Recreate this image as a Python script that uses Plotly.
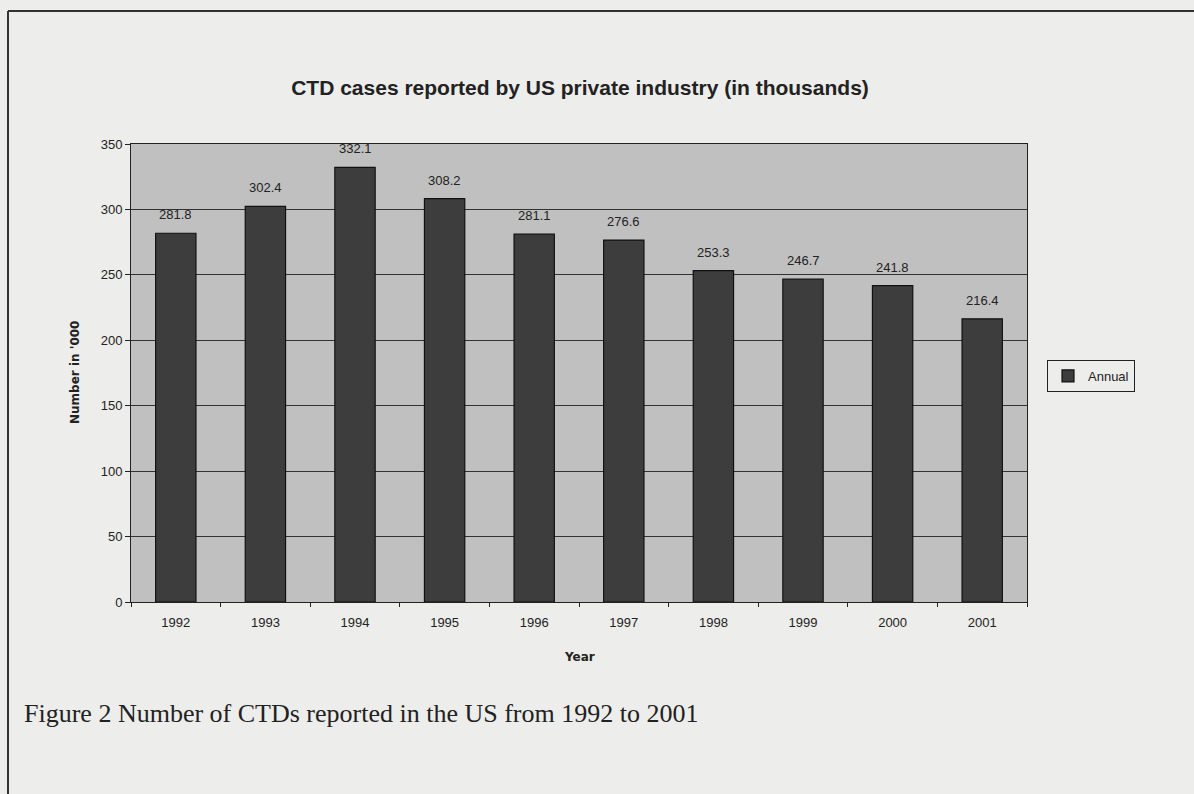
import plotly.graph_objects as go

years = ["1992", "1993", "1994", "1995", "1996", "1997", "1998", "1999", "2000", "2001"]
cases = [281.8, 302.4, 332.1, 308.2, 281.1, 276.6, 253.3, 246.7, 241.8, 216.4]
series_name = "Annual"
title_text = "CTD cases reported by US private industry (in thousands)"
caption_text = "Figure 2 Number of CTDs reported in the US from 1992 to 2001"

FONT = "Liberation Sans, Arial, sans-serif"

W, H = 1194, 794
L, R, T, B = 131, 167, 144, 192
pw, ph = W - L - R, H - T - B

fig = go.Figure()
fig.add_trace(go.Bar(
    x=years, y=cases, name=series_name,
    marker=dict(color="#3d3d3d", line=dict(color="#111111", width=1.2)),
    width=0.45, showlegend=True,
))

annotations = []
for i, v in enumerate(cases):
    annotations.append(dict(
        x=i, y=v, xref="x", yref="y", text=f"{v:.1f}", showarrow=False,
        yanchor="bottom", yshift=9, font=dict(family=FONT, size=13, color="#222222"),
    ))
annotations.append(dict(
    x=(22 - L) / pw, y=(H - B - 713) / ph, xref="paper", yref="paper",
    text=caption_text, showarrow=False, xanchor="left", yanchor="middle",
    font=dict(family="Liberation Serif, Times New Roman, serif", size=26, color="#222222"),
))
annotations.append(dict(
    x=0.5, y=(H - B - 657) / ph, xref="paper", yref="paper",
    text="<b>Year</b>", showarrow=False, xanchor="center", yanchor="middle",
    font=dict(family="DejaVu Sans, sans-serif", size=12, color="#222222"),
))
annotations.append(dict(
    x=(75 - L) / pw, y=(H - B - 373) / ph, xref="paper", yref="paper",
    text="<b>Number in '000</b>", showarrow=False, xanchor="center", yanchor="middle",
    textangle=-90,
    font=dict(family="DejaVu Sans, sans-serif", size=12, color="#222222"),
))

fig.update_layout(
    width=W, height=H,
    margin=dict(l=L, r=R, t=T, b=B),
    paper_bgcolor="#ededeb",
    plot_bgcolor="#c0c0c0",
    title=dict(text="<b>" + title_text + "</b>", x=580 / W, xanchor="center",
               y=1 - 88 / H, yanchor="middle",
               font=dict(family=FONT, size=21, color="#222222")),
    font=dict(family=FONT, size=13, color="#222222"),
    legend=dict(x=(1047 - L) / pw, y=(H - B - 376) / ph, xanchor="left", yanchor="middle",
                bgcolor="rgba(0,0,0,0)", bordercolor="#222222", borderwidth=1,
                itemwidth=30,
                font=dict(family=FONT, size=13, color="#222222")),
    annotations=annotations,
    shapes=[
        dict(type="line", xref="paper", yref="paper",
             x0=(8 - L) / pw, x1=(W - L) / pw, y0=(H - B - 11) / ph, y1=(H - B - 11) / ph,
             line=dict(color="#333333", width=2)),
        dict(type="line", xref="paper", yref="paper",
             x0=(8 - L) / pw, x1=(8 - L) / pw, y0=(H - B - 11) / ph, y1=(H - B - H) / ph,
             line=dict(color="#333333", width=2)),
    ],
)
fig.update_xaxes(
    type="category", range=[-0.5, len(years) - 0.5], autorange=False,
    showline=True, linecolor="#222222", linewidth=1, mirror=True,
    ticks="outside", tickson="boundaries", ticklen=4, tickcolor="#222222",
    tickangle=0, ticklabelstandoff=8,
    tickfont=dict(family=FONT, size=13, color="#222222"),
    showgrid=False,
)
fig.update_yaxes(
    range=[0, 350], dtick=50, showline=True, linecolor="#222222", linewidth=1, mirror=True,
    ticks="outside", ticklen=5, tickcolor="#222222",
    gridcolor="#333333", gridwidth=1,
    tickfont=dict(family=FONT, size=13, color="#222222"),
    zeroline=False,
)

fig.write_html("out.html")
